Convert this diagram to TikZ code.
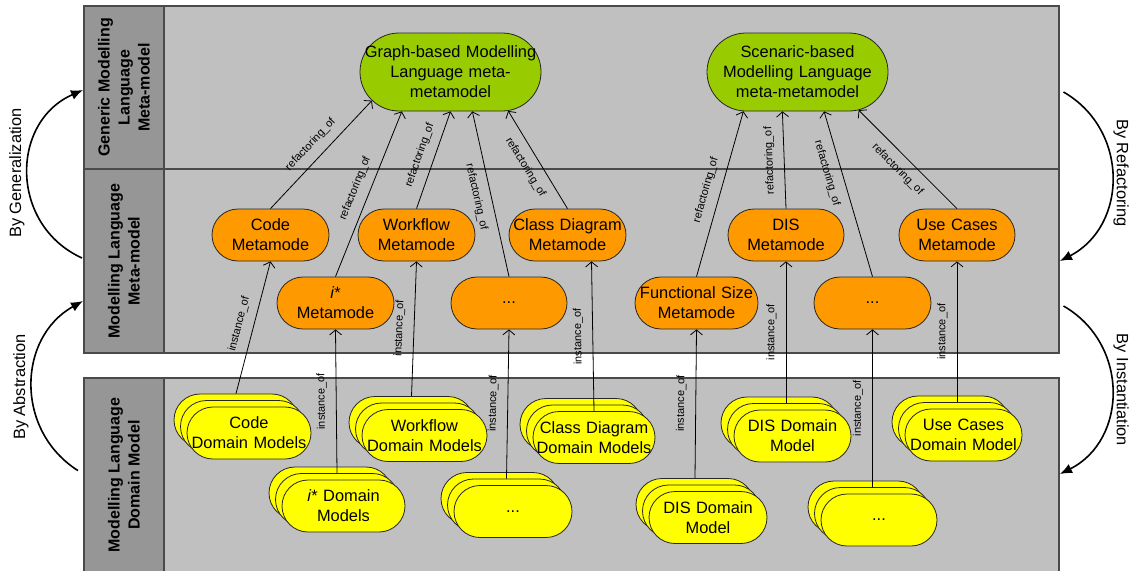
\documentclass[tikz,border=0pt]{standalone}
\usepackage{fontspec}
\setmainfont{Liberation Sans}
\usetikzlibrary{shapes.misc,arrows.meta}

\definecolor{panelfill}{HTML}{C0C0C0}
\definecolor{headfill}{HTML}{969696}
\definecolor{panelline}{HTML}{4A4A4A}
\definecolor{metagreen}{HTML}{99CC00}
\definecolor{metaorange}{HTML}{FF9900}
\definecolor{modelyellow}{HTML}{FFFF00}
\definecolor{shapeline}{HTML}{262626}

\newcommand\ndfont{\fontsize{16.4}{20}\selectfont}
% a centred line that may run past the shape's text box
\newcommand\zl[1]{\makebox[0pt]{#1}}
% three stacked domain-model pills: name, x, y, width, text
\newcommand\ystack[5]{%
  \node[dm, minimum width=#4pt] (#1-b) at (#2-13,#3-13) {};
  \node[dm, minimum width=#4pt] (#1-m) at (#2-6.5,#3-6.5) {};
  \node[dm, minimum width=#4pt] (#1) at (#2,#3) {#5};
}

\begin{document}
\begin{tikzpicture}[x=1pt,y=-1pt,
  border/.style={draw=panelline, line width=1.4pt},
  hdr/.style={rotate=90, align=center, inner sep=0pt,
    font=\bfseries\fontsize{16}{20}\selectfont},
  side/.style={font=\ndfont, inner sep=0pt},
  pill/.style={rounded rectangle, draw=shapeline, line width=0.8pt,
    inner sep=0pt, text width=4pt, align=center, font=\ndfont},
  gmm/.style={pill, fill=metagreen, minimum width=181pt, minimum height=78pt},
  mm/.style={pill, fill=metaorange, minimum width=117pt, minimum height=52pt},
  dm/.style={pill, fill=modelyellow, minimum height=52pt},
  conn/.style={draw=black, line width=0.8pt,
    -{Straight Barb[length=5pt,width=12pt,line width=0.8pt]}},
  lbl/.style={font=\fontsize{11}{13}\selectfont, sloped, inner sep=0pt},
  cycle/.style={draw=black, line width=1.6pt,
    -{Latex[length=12pt,width=10pt]}}
]
\useasboundingbox (0,0) rectangle (1131,570);

% layer panels
\fill[panelfill] (84,6) rectangle (1059,353);
\fill[headfill] (84,6) rectangle (164,353);
\draw[border] (84,6) rectangle (1059,353);
\draw[border] (84,169) -- (1059,169);
\draw[border] (164,6) -- (164,353);

\fill[panelfill] (84,378) rectangle (1059,575);
\fill[headfill] (84,378) rectangle (164,575);
\draw[border] (84,575) -- (84,378) -- (1059,378) -- (1059,575);
\draw[border] (164,378) -- (164,575);

\node[hdr] (hdr-gen) at (124,87.5) {Generic Modelling\\Language\\Meta-model};
\node[hdr] (hdr-meta) at (124,261) {Modelling Language\\Meta-model};
\node[hdr] (hdr-dom) at (124,475) {Modelling Language\\Domain Model};

% cycle arrows and their captions
\draw[cycle] (82,258) .. controls (9.5,225) and (10,122) .. (83,90);
\draw[cycle] (78,470.6) .. controls (14.8,430.6) and (17.2,337.6) .. (83,301);
\draw[cycle] (1063.5,92) .. controls (1129.5,130) and (1127.8,226) .. (1060,261);
\draw[cycle] (1063.5,306) .. controls (1129.5,344) and (1127.8,440) .. (1060,474);

\node[side, rotate=90] (by-gen) at (17,173) {By Generalization};
\node[side, rotate=90] (by-abs) at (21,387) {By Abstraction};
\node[side, rotate=-90] (by-ref) at (1121,173) {By Refactoring};
\node[side, rotate=-90] (by-ins) at (1121,390) {By Instantiation};

% meta-metamodels
\node[gmm] (g1) at (450.5,72) {\zl{Graph-based Modelling}\\\zl{Language meta-}\\\zl{metamodel}};
\node[gmm] (g2) at (797.5,72) {\zl{Scenaric-based}\\\zl{Modelling Language}\\\zl{meta-metamodel}};

% metamodels
\node[mm] (cmm) at (270.5,235) {\zl{Code}\\\zl{Metamode}};
\node[mm] (wmm) at (416.5,235) {\zl{Workflow}\\\zl{Metamode}};
\node[mm] (clmm) at (567.5,235) {\zl{Class Diagram}\\\zl{Metamode}};
\node[mm] (imm) at (335.5,303) {\zl{\textit{i}*}\\\zl{Metamode}};
\node[mm, minimum width=116pt] (dmm) at (509,303) {\zl{...}};
\node[mm, minimum width=123pt] (fsmm) at (696.5,303) {\zl{Functional Size}\\\zl{Metamode}};
\node[mm, minimum width=116pt] (dismm) at (786,235) {\zl{DIS}\\\zl{Metamode}};
\node[mm] (d2mm) at (872.5,303) {\zl{...}};
\node[mm, minimum width=116pt] (ucmm) at (957,235) {\zl{Use Cases}\\\zl{Metamode}};

% domain models
\ystack{cdm}{249}{433}{124}{\zl{Code}\\\zl{Domain Models}}
\ystack{idm}{343.5}{506}{123}{\zl{\textit{i}* Domain}\\\zl{Models}}
\ystack{wdm}{424.5}{435.5}{125}{\zl{Workflow}\\\zl{Domain Models}}
\ystack{ddm}{513}{511.5}{118}{\zl{...}}
\ystack{cldm}{594}{437.5}{122}{\zl{Class Diagram}\\\zl{Domain Models}}
\ystack{fdm}{708}{517.5}{118}{\zl{DIS Domain}\\\zl{Model}}
\ystack{disdm}{792.5}{436}{117}{\zl{DIS Domain}\\\zl{Model}}
\ystack{d2dm}{879}{520}{116}{\zl{...}}
\ystack{ucdm}{963.5}{435}{117}{\zl{Use Cases}\\\zl{Domain Model}}

% instance_of connectors
\draw[conn] (cdm-b.north) -- node[lbl, allow upside down, above=9pt] {instance\_of} (cmm.south);
\draw[conn] (idm-m.north) -- node[lbl, allow upside down, above=9pt] {instance\_of} (imm.south);
\draw[conn] (wdm-b.north) -- node[lbl, allow upside down, above=9pt] {instance\_of} (wmm.south);
\draw[conn] (ddm-m.north) -- node[lbl, allow upside down, above=9pt] {instance\_of} (dmm.south);
\draw[conn] (cldm.north) -- node[lbl, allow upside down, above=9pt] {instance\_of} ([xshift=24pt]clmm.south);
\draw[conn] (fdm-b.north) -- node[lbl, allow upside down, above=9pt] {instance\_of} (fsmm.south);
\draw[conn] (disdm-m.north) -- node[lbl, allow upside down, above=9pt] {instance\_of} (dismm.south);
\draw[conn] (d2dm-m.north) -- node[lbl, allow upside down, above=9pt] {instance\_of} (d2mm.south);
\draw[conn] (ucdm-m.north) -- node[lbl, allow upside down, above=9pt] {instance\_of} (ucmm.south);

% refactoring_of connectors
\draw[conn] (cmm.north) -- node[lbl, above=9pt] {refactoring\_of} (g1.200);
\draw[conn] (imm.north) -- node[lbl, above=9pt] {refactoring\_of} (g1.219);
\draw[conn] (wmm.north) -- node[lbl, above=9pt] {refactoring\_of} (g1.south);
\draw[conn] (dmm.north) -- node[lbl, below=9pt] {refactoring\_of} (g1.299);
\draw[conn] (clmm.north) -- node[lbl, below=9pt] {refactoring\_of} (g1.326);
\draw[conn] (fsmm.north) -- node[lbl, above=9pt] {refactoring\_of} (g2.216);
\draw[conn] (dismm.north) -- node[lbl, allow upside down, above=9pt] {refactoring\_of} (g2.249);
\draw[conn] (d2mm.north) -- node[lbl, pos=0.65, below=9pt] {refactoring\_of} (g2.304);
\draw[conn] (ucmm.north) -- node[lbl, below=9pt] {refactoring\_of} (g2.328);
\end{tikzpicture}
\end{document}
